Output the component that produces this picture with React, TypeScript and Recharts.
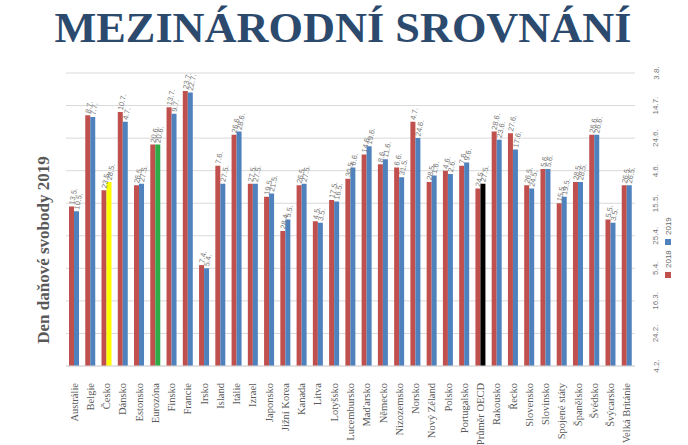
import { BarChart, Bar, XAxis, YAxis, CartesianGrid, Cell, LabelList } from "recharts";

// values are the day of the year 2019 (1 = 1.1.)
const categories = [
  "Austrálie", "Belgie", "Česko", "Dánsko", "Estonsko", "Eurozóna", "Finsko",
  "Francie", "Irsko", "Island", "Itálie", "Izrael", "Japonsko", "Jižní Korea",
  "Kanada", "Litva", "Lotyšsko", "Lucembursko", "Maďarsko", "Německo",
  "Nizozemsko", "Norsko", "Nový Zéland", "Polsko", "Portugalsko", "Průměr OECD",
  "Rakousko", "Řecko", "Slovensko", "Slovinsko", "Spojené státy", "Španělsko",
  "Švédsko", "Švýcarsko", "Velká Británie",
];

const values2018 = [
  133, 189, 143, 191, 146, 171, 194, 204, 97, 158, 177, 147, 139, 118, 146,
  124, 137, 150, 165, 159, 157, 185, 148, 155, 158, 144, 179, 178, 146, 156,
  135, 148, 177, 125, 146,
];

const values2019 = [
  130, 188, 148, 185, 147, 171, 190, 203, 95, 147, 179, 147, 141, 125, 147,
  123, 136, 157, 170, 162, 151, 175, 152, 153, 160, 147, 174, 168, 144, 156,
  139, 148, 177, 123, 146,
];

const yTicks = [35, 55, 75, 95, 115, 135, 155, 175, 195, 215];

const specialColors: Record<string, string> = {
  "Česko": "#ffff00",
  "Eurozóna": "#2eab47",
  "Průměr OECD": "#000000",
};

const RED = "#c0504d";
const BLUE = "#4f81bd";

const MONTH_DAYS = [31, 28, 31, 30, 31, 30, 31, 31, 30, 31, 30, 31];
function dayLabel(n: number) {
  let d = n;
  let m = 0;
  while (m < 11 && d > MONTH_DAYS[m]) {
    d -= MONTH_DAYS[m];
    m++;
  }
  return `${d}.${m + 1}.`;
}

const data = categories.map((name, i) => ({
  name,
  y2018: values2018[i],
  y2019: values2019[i],
}));

const CatTick = ({ x, y, payload }: any) => (
  <text
    x={x}
    y={y + 9}
    transform={`rotate(-90 ${x} ${y + 9})`}
    textAnchor="end"
    dominantBaseline="central"
    fontFamily="'Liberation Serif', serif"
    fontSize={10.5}
    fill="#595959"
  >
    {payload.value}
  </text>
);

const DateTick = ({ x, y, payload }: any) => (
  <text
    x={x + 13}
    y={y}
    transform={`rotate(-90 ${x + 13} ${y})`}
    textAnchor="middle"
    dominantBaseline="central"
    fontFamily="'Liberation Sans', sans-serif"
    fontSize={8}
    fill="#777"
  >
    {dayLabel(payload.value)}
  </text>
);

const ValueLabel = (props: any) => {
  const { x, y, width, value } = props;
  const cx = x + width / 2;
  const cy = y - 2;
  return (
    <text
      x={cx}
      y={cy}
      transform={`rotate(-78 ${cx} ${cy})`}
      textAnchor="start"
      dominantBaseline="central"
      fontFamily="'Liberation Sans', sans-serif"
      fontSize={7.5}
      fill="#7a7a7a"
    >
      {dayLabel(value)}
    </text>
  );
};

export default function App() {
  return (
    <div style={{ position: "absolute", left: 0, top: 0, width: 688, height: 445, background: "#fff" }}>
      <svg width={688} height={445} style={{ position: "absolute", left: 0, top: 0 }}>
        <text
          x={343}
          y={42}
          textAnchor="middle"
          textLength={577}
          lengthAdjust="spacingAndGlyphs"
          fontFamily="'Liberation Serif', serif"
          fontWeight="bold"
          fontSize={42}
          fill="#2c4a6e"
        >
          MEZINÁRODNÍ SROVNÁNÍ
        </text>
        <text
          x={43}
          y={250}
          transform="rotate(-90 43 250)"
          textAnchor="middle"
          dominantBaseline="central"
          fontFamily="'Liberation Serif', serif"
          fontWeight="bold"
          fontSize={17}
          fill="#595959"
        >
          Den daňové svobody 2019
        </text>
        <g fontFamily="'Liberation Sans', sans-serif" fontSize={8} fill="#666">
          <rect x={665} y={272} width={6} height={6} fill={RED} />
          <text x={668} y={268} transform="rotate(-90 668 268)" dominantBaseline="central">2018</text>
          <rect x={665} y={239} width={6} height={6} fill={BLUE} />
          <text x={668} y={235} transform="rotate(-90 668 235)" dominantBaseline="central">2019</text>
        </g>
      </svg>
      <div style={{ position: "absolute", left: 0, top: 0 }}>
        <BarChart
          width={688}
          height={445}
          data={data}
          margin={{ top: 73, right: 23, bottom: 9, left: 66 }}
          barSize={5}
          barGap={0}
        >
          <CartesianGrid vertical={false} stroke="#d9d9d9" />
          <XAxis
            dataKey="name"
            interval={0}
            height={70}
            tickLine={false}
            axisLine={{ stroke: "#d9d9d9" }}
            tick={<CatTick />}
          />
          <YAxis
            orientation="right"
            width={30}
            domain={[35, 215]}
            ticks={yTicks}
            type="number"
            axisLine={false}
            tickLine={false}
            tick={<DateTick />}
          />
          <Bar dataKey="y2018" fill={RED} isAnimationActive={false}>
            <LabelList dataKey="y2018" content={<ValueLabel />} />
          </Bar>
          <Bar dataKey="y2019" fill={BLUE} isAnimationActive={false}>
            {data.map((d) => (
              <Cell key={d.name} fill={specialColors[d.name] ?? BLUE} />
            ))}
            <LabelList dataKey="y2019" content={<ValueLabel />} />
          </Bar>
        </BarChart>
      </div>
    </div>
  );
}
